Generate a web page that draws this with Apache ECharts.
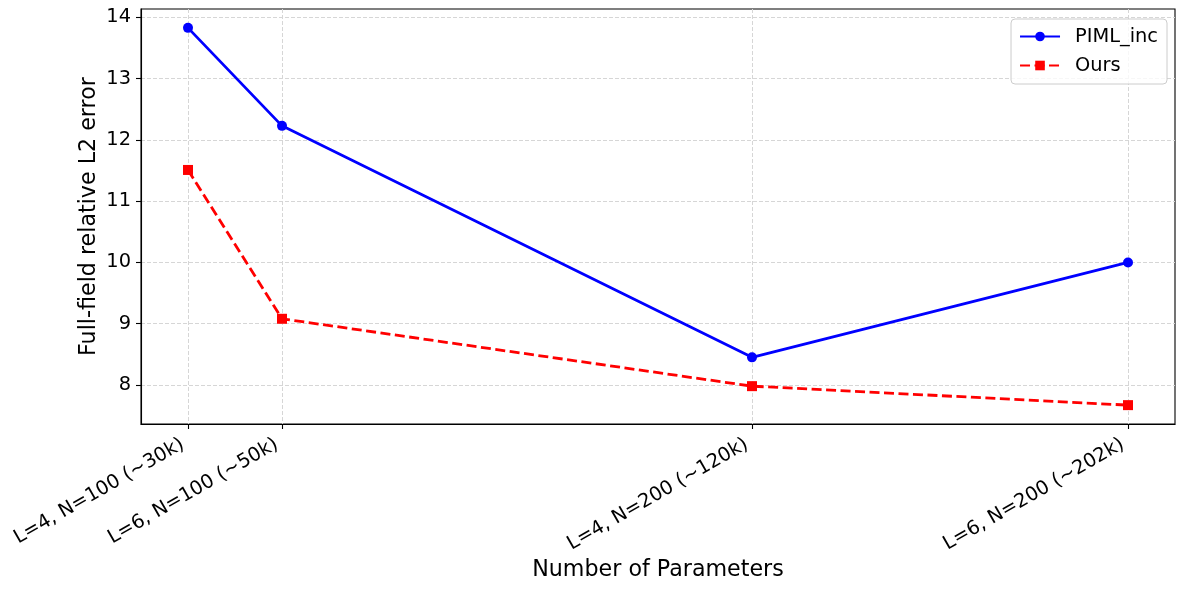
<!DOCTYPE html>
<html>
<head>
<meta charset="utf-8">
<script src="https://cdn.jsdelivr.net/npm/echarts@6/dist/echarts.min.js"></script>
<style>html,body{margin:0;padding:0;background:#fff}#c{width:1185px;height:589px}</style>
</head>
<body>
<div id="c"></div>
<script>
// Data
const xVals = [30, 50, 150, 230];
const xLabels = ['L=4, N=100 (~30k)', 'L=6, N=100 (~50k)', 'L=4, N=200 (~120k)', 'L=6, N=200 (~202k)'];
const pimlInc = [13.83, 12.23, 8.45, 10.0];
const ours = [11.51, 9.08, 7.98, 7.67];
const yTicks = [8, 9, 10, 11, 12, 13, 14];

const font = 'DejaVu Sans';
const chart = echarts.init(document.getElementById('c'));
const gridLine = { show: true, lineStyle: { color: '#d6d6d6', width: 1, type: [4, 2] } };

chart.setOption({
  animation: false,
  textStyle: { fontFamily: font },
  grid: { left: 141, right: 10, top: 9, bottom: 165, show: true, borderColor: '#000', borderWidth: 1.1, containLabel: false },
  legend: {
    orient: 'vertical', right: 18, top: 19,
    itemWidth: 40, itemHeight: 12, itemGap: 10,
    padding: [8, 9, 9, 8],
    backgroundColor: 'rgba(255,255,255,0.8)', borderColor: '#cccccc', borderWidth: 1, borderRadius: 4,
    textStyle: { fontFamily: font, fontSize: 19.4, color: '#000', padding: [0, 0, 0, 10] },
    data: ['PIML_inc', 'Ours']
  },
  xAxis: {
    type: 'value', min: 20, max: 240,
    name: 'Number of Parameters', nameLocation: 'middle', nameGap: 135, nameMoveOverlap: false,
    nameTextStyle: { fontFamily: font, fontSize: 22.2, color: '#000' },
    axisLine: { show: true, onZero: false, lineStyle: { color: '#000', width: 1.1 } },
    axisTick: { show: true, customValues: xVals, length: 5, lineStyle: { color: '#000', width: 1.1 } },
    axisLabel: {
      customValues: xVals, rotate: 30, margin: 16, padding: [0, 6, 0, 0],
      fontFamily: font, fontSize: 19.4, color: '#000',
      formatter: v => { const i = xVals.indexOf(v); return i >= 0 ? xLabels[i] : ''; }
    },
    splitLine: gridLine
  },
  yAxis: {
    type: 'value', min: 7.362, max: 14.138,
    name: 'Full-field relative L2 error', nameLocation: 'middle', nameGap: 41, nameMoveOverlap: false,
    nameTextStyle: { fontFamily: font, fontSize: 22.2, color: '#000' },
    axisLine: { show: true, onZero: false, lineStyle: { color: '#000', width: 1.1 } },
    axisTick: { show: true, customValues: yTicks, length: 5, lineStyle: { color: '#000', width: 1.1 } },
    axisLabel: { customValues: yTicks, margin: 10, fontFamily: font, fontSize: 19.4, color: '#000', formatter: v => String(v) },
    splitLine: gridLine
  },
  series: [
    {
      name: 'PIML_inc', type: 'line', data: xVals.map((x, i) => [x, pimlInc[i]]),
      symbol: 'circle', symbolSize: 10, showAllSymbol: true,
      itemStyle: { color: '#0000ff' },
      lineStyle: { color: '#0000ff', width: 2.8, type: 'solid' }
    },
    {
      name: 'Ours', type: 'line', data: xVals.map((x, i) => [x, ours[i]]),
      symbol: 'rect', symbolSize: 10, showAllSymbol: true,
      itemStyle: { color: '#ff0000' },
      lineStyle: { color: '#ff0000', width: 2.8, type: [10, 4.5] }
    }
  ]
});
</script>
</body>
</html>
